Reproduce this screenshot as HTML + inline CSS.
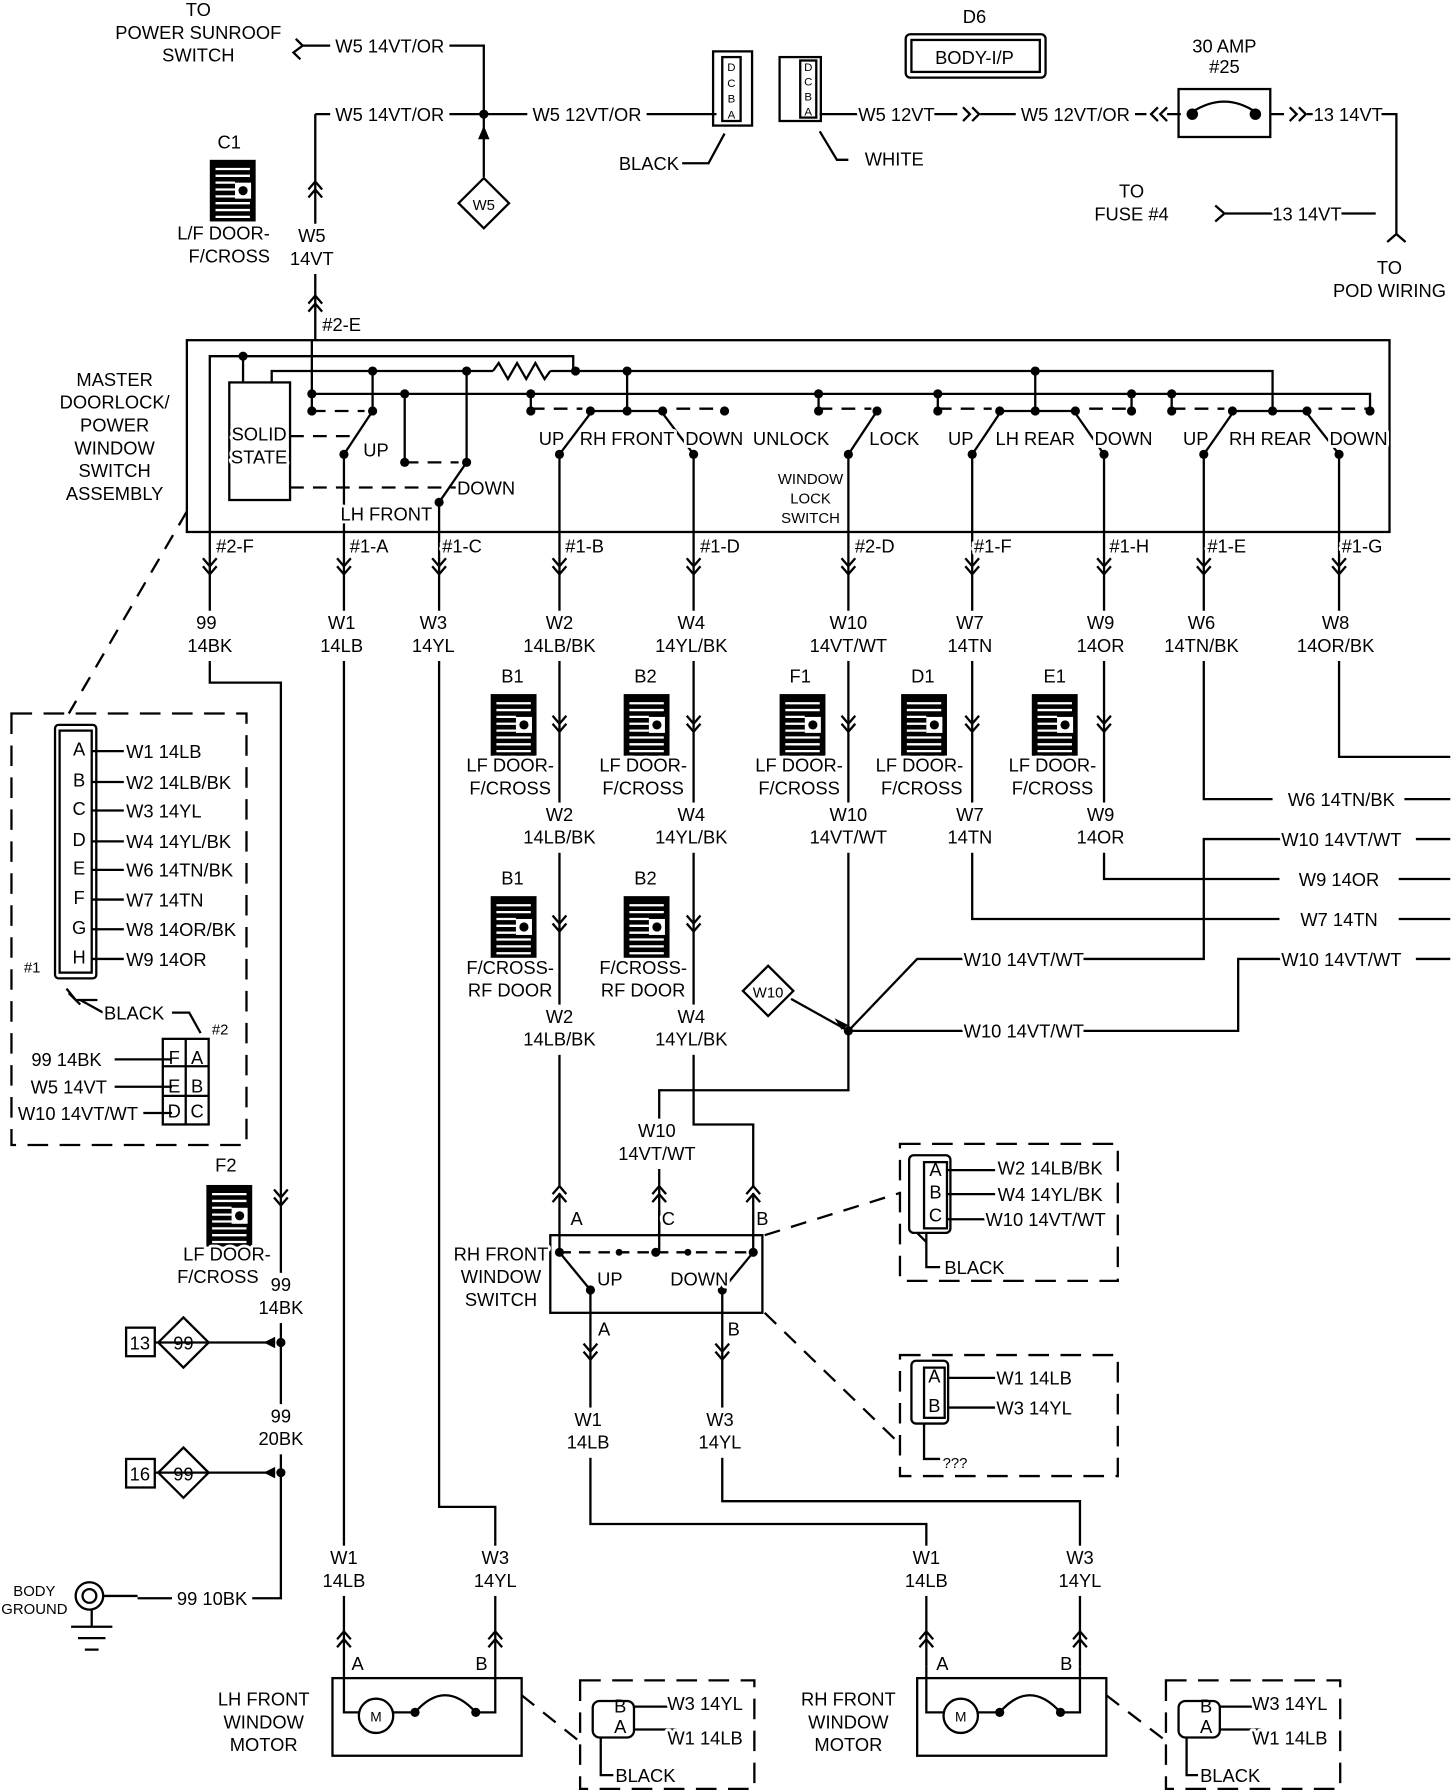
<!DOCTYPE html>
<html><head><meta charset="utf-8"><style>
html,body{margin:0;padding:0;background:#fff}
svg{display:block}
text{font-family:"Liberation Sans Narrow","Liberation Sans",sans-serif;font-size:16px;fill:#000;stroke:#fff;stroke-width:5px;paint-order:stroke;stroke-linejoin:round}
.s{font-size:13px}
.n text{stroke:none}
</style></head><body>
<svg width="1456" height="1790" viewBox="0 0 1270 1568" preserveAspectRatio="none" xmlns="http://www.w3.org/2000/svg">
<defs>
<g id="cd"><path d="M-6,-8 L0,-1 L6,-8 M-6,-1 L0,6 L6,-1" fill="none" stroke="#000" stroke-width="2"/></g>
<g id="cu"><path d="M-6,8 L0,1 L6,8 M-6,1 L0,-6 L6,1" fill="none" stroke="#000" stroke-width="2"/></g>
<g id="ci"><rect x="0" y="0" width="40" height="54" fill="#000"/>
<path d="M5,8H35M5,14H35M5,20H22M5,26H22M5,32H22M5,38H35M5,44H35M5,50H35" stroke="#fff" stroke-width="2"/>
<rect x="22" y="20" width="14" height="14" fill="#fff"/><circle cx="29" cy="27" r="4" fill="#000"/></g>
<rect id="v" x="-26" y="-20" width="52" height="44" fill="#fff"/>
<rect id="h" x="-52" y="-11" width="104" height="22" fill="#fff"/>
</defs>
<g stroke="#000" stroke-width="2" fill="none">
<path d="M258,34 L264,40 L256,46 L262,52 M264,40 H290 M390,40 H422 V100 M275,100 H290 M390,100 H460 M560,100 H625 M715,100 H748 M815,100 H835 M855,100 H890 M985,100 H1000 M1018,100 H1030 M1108,100 H1120 M1140,100 H1145 M1205,100 H1218 V205 L1210,212 M1218,205 L1226,212"/>
<path d="M275,100 V298 M422,100 V155"/>
<path d="M1060,180 L1068,187 L1060,194 M1068,187 H1110 M1170,187 H1200"/>
<path d="M840,94 L846,100 L840,106 M848,94 L854,100 L848,106 M1010,94 L1004,100 L1010,106 M1018,94 L1012,100 L1018,106 M1125,94 L1131,100 L1125,106 M1133,94 L1139,100 L1133,106"/>
<rect x="1028" y="78" width="80" height="42"/>
<path d="M1040,98 Q1068,80 1095,98"/>
<rect x="790" y="30" width="122" height="38" rx="4"/>
<rect x="795" y="35" width="112" height="28"/>
<path d="M400,178 L422,156 L444,178 L422,200 Z"/>
<rect x="622" y="45" width="34" height="65"/><rect x="630" y="50" width="16" height="56"/>
<rect x="680" y="50" width="36" height="56"/><rect x="698" y="53" width="14" height="50"/>
<path d="M595,143 H618 L632,117 M740,140 H730 L715,115"/>
<rect x="163" y="298" width="1049" height="168"/>
<path d="M183,466 V312 H500 V326 M212,312 V335 M237,335 V325 H430 M480,325 H1110 V360 M903,325 V360 M547,325 V360"/>
<path d="M430,325 L435,318 L443,332 L451,318 L459,332 L467,318 L475,332 L480,325"/>
<path d="M272,345 H1195 V360 M272,298 V360 M353,345 V405 M463,345 V360 M714,345 V360 M818,345 V360 M987,345 V360 M1022,345 V360 M325,325 V360 M407,325 V405"/>
<rect x="200" y="335" width="53" height="103"/>
<path d="M300,398 L325,360 M383,440 L407,405 M488,398 L515,362 M605,398 L578,362 M515,360 H578 M740,398 L765,360 M848,398 L872,362 M963,398 L938,362 M872,360 H938 M1050,398 L1075,362 M1168,398 L1140,362 M1075,360 H1140"/>
<path stroke-dasharray="12,8" d="M272,360 H318 M253,382 H310 M253,427 H398 M353,405 H400 M463,358 H508 M590,358 H632 M714,358 H760 M818,358 H865 M950,358 H987 M1022,358 H1068 M1150,358 H1195"/>
<path d="M183,466 V580 M300,398 V1350 M383,440 V1320 H432 V1350 M488,398 V1040 M605,398 V985 H657 V1040 M740,398 V955 H575 V980 M848,398 V805 H1235 M963,398 V770 H1235 M1050,398 V700 H1110 M1168,398 V663 H1265 M1225,700 H1265 M1235,735 H1265 M1235,770 H1265 M1235,805 H1265 M1235,840 H1265"/>
<path d="M183,580 V598 H245 V1140"/>
<path d="M740,903 L800,840 H840 M945,840 H1050 V735 H1120 M740,903 H840 M945,903 H1080 V840 H1120 M690,875 L740,903"/>
<path d="M648,868 L670,846 L692,868 L670,890 Z"/>
<path d="M575,1020 V1082"/>
<path stroke-dasharray="14,10" d="M163,448 L60,625"/>
<rect x="10" y="625" width="205" height="378" stroke-dasharray="18,10"/>
<rect x="48" y="635" width="36" height="222" rx="3"/><rect x="52" y="640" width="28" height="212"/>
<path d="M80,658 H108 M80,685 H108 M80,710 H108 M80,737 H108 M80,762 H108 M80,788 H108 M80,814 H108 M80,840 H108"/>
<path d="M58,866 L66,876 H85 M60,870 L70,880 M90,887 L70,876"/>
<rect x="142" y="910" width="40" height="75"/>
<path d="M100,928 H150 M100,952 H150 M125,975 H150 M162,910 V985 M142,934 H182 M142,960 H182 M150,887 H165 L175,905"/>
<path d="M135,1176 H240 M135,1290 H240 M245,1140 V1400 H220 M120,1400 H150"/>
<path d="M138,1176 L160,1154 L182,1176 L160,1198 Z M138,1290 L160,1268 L182,1290 L160,1312 Z"/>
<rect x="110" y="1163" width="25" height="25"/><rect x="110" y="1278" width="25" height="25"/>
<circle cx="78" cy="1398" r="12"/><circle cx="78" cy="1398" r="6"/>
<path d="M90,1398 H120 M80,1410 V1425 M62,1425 H98 M68,1435 H92 M74,1445 H86"/>
<rect x="480" y="1082" width="185" height="68"/>
<path d="M488,1045 V1097 M657,1045 V1097 M488,1097 L515,1130 M657,1097 L630,1130 M575,1060 V1097 M515,1130 V1335 H808 V1460 M630,1130 V1315 H942 V1460"/>
<path stroke-dasharray="10,7" d="M488,1097 H657"/>
<path stroke-dasharray="14,10" d="M667,1082 L785,1045 M667,1150 L785,1265"/>
<rect x="785" y="1002" width="190" height="120" stroke-dasharray="18,10"/>
<rect x="785" y="1187" width="190" height="106" stroke-dasharray="18,10"/>
<rect x="793" y="1012" width="36" height="68" rx="4"/><rect x="806" y="1018" width="20" height="58"/>
<path d="M826,1025 H868 M826,1046 H868 M826,1068 H860 M808,1080 V1110 H820 M800,1080 L808,1088"/>
<rect x="795" y="1192" width="32" height="55" rx="4"/><rect x="806" y="1198" width="18" height="44"/>
<path d="M826,1207 H868 M826,1233 H868 M806,1247 V1278 H820"/>
<rect x="290" y="1470" width="165" height="68"/><rect x="800" y="1470" width="165" height="68"/>
<path d="M300,1350 V1500 H313 M343,1500 H362 M432,1350 V1500 H415 M808,1460 V1500 H823 M853,1500 H872 M942,1460 V1500 H925"/>
<path d="M362,1500 Q388,1470 415,1500 M872,1500 Q898,1470 925,1500"/>
<circle cx="328" cy="1503" r="15"/><circle cx="838" cy="1503" r="15"/>
<path stroke-dasharray="14,10" d="M455,1485 L505,1525 M965,1485 L1017,1525"/>
<rect x="506" y="1472" width="152" height="95" stroke-dasharray="18,10"/>
<rect x="1017" y="1472" width="152" height="95" stroke-dasharray="18,10"/>
<rect x="517" y="1490" width="36" height="32" rx="6"/><rect x="1028" y="1490" width="36" height="32" rx="6"/>
<path d="M553,1495 H590 M553,1515 H590 M524,1522 V1555 H535 M1064,1495 H1100 M1064,1515 H1100 M1035,1522 V1555 H1045"/>
</g>
<!-- label masks -->
<use href="#v" x="183" y="555"/><use href="#v" x="298" y="555"/><use href="#v" x="378" y="555"/><use href="#v" x="488" y="555"/><use href="#v" x="603" y="555"/><use href="#v" x="740" y="555"/><use href="#v" x="846" y="555"/><use href="#v" x="960" y="555"/><use href="#v" x="1048" y="555"/><use href="#v" x="1165" y="555"/>
<use href="#v" x="488" y="723"/><use href="#v" x="603" y="723"/><use href="#v" x="740" y="723"/><use href="#v" x="846" y="723"/><use href="#v" x="960" y="723"/>
<use href="#v" x="488" y="900"/><use href="#v" x="603" y="900"/><use href="#v" x="573" y="1000"/>
<use href="#v" x="513" y="1253"/><use href="#v" x="628" y="1253"/>
<use href="#v" x="300" y="1374"/><use href="#v" x="432" y="1374"/><use href="#v" x="808" y="1374"/><use href="#v" x="942" y="1374"/>
<use href="#v" x="245" y="1135"/><use href="#v" x="245" y="1250"/><use href="#v" x="272" y="216"/>
<use href="#h" x="340" y="40"/><use href="#h" x="340" y="100"/><use href="#h" x="512" y="100"/><use href="#h" x="938" y="100"/>
<use href="#h" x="1170" y="700"/><use href="#h" x="1170" y="735"/><use href="#h" x="1168" y="770"/><use href="#h" x="1168" y="805"/><use href="#h" x="1170" y="840"/>
<use href="#h" x="893" y="840"/><use href="#h" x="893" y="903"/>
<rect x="752" y="90" width="62" height="20" fill="#fff"/><rect x="1148" y="90" width="56" height="20" fill="#fff"/><rect x="1112" y="177" width="58" height="20" fill="#fff"/><rect x="152" y="1390" width="66" height="20" fill="#fff"/>
<g fill="#000">
<circle cx="422" cy="100" r="4"/><circle cx="1040" cy="100" r="5"/><circle cx="1095" cy="100" r="5"/>
<circle cx="212" cy="312" r="4"/><circle cx="325" cy="325" r="4"/><circle cx="407" cy="325" r="4"/><circle cx="502" cy="325" r="4"/><circle cx="547" cy="325" r="4"/><circle cx="903" cy="325" r="4"/>
<circle cx="272" cy="345" r="4"/><circle cx="353" cy="345" r="4"/><circle cx="463" cy="345" r="4"/><circle cx="714" cy="345" r="4"/><circle cx="818" cy="345" r="4"/><circle cx="987" cy="345" r="4"/><circle cx="1022" cy="345" r="4"/>
<circle cx="272" cy="360" r="4"/><circle cx="325" cy="360" r="4"/><circle cx="300" cy="398" r="4"/><circle cx="353" cy="405" r="4"/><circle cx="407" cy="405" r="4"/><circle cx="383" cy="440" r="4"/>
<circle cx="463" cy="360" r="4"/><circle cx="515" cy="360" r="4"/><circle cx="547" cy="360" r="4"/><circle cx="578" cy="360" r="4"/><circle cx="632" cy="360" r="4"/><circle cx="488" cy="398" r="4"/><circle cx="605" cy="398" r="4"/>
<circle cx="714" cy="360" r="4"/><circle cx="765" cy="360" r="4"/><circle cx="740" cy="398" r="4"/>
<circle cx="818" cy="360" r="4"/><circle cx="872" cy="360" r="4"/><circle cx="903" cy="360" r="4"/><circle cx="938" cy="360" r="4"/><circle cx="987" cy="360" r="4"/><circle cx="848" cy="398" r="4"/><circle cx="963" cy="398" r="4"/>
<circle cx="1022" cy="360" r="4"/><circle cx="1075" cy="360" r="4"/><circle cx="1110" cy="360" r="4"/><circle cx="1140" cy="360" r="4"/><circle cx="1195" cy="360" r="4"/><circle cx="1050" cy="398" r="4"/><circle cx="1168" cy="398" r="4"/>
<circle cx="740" cy="903" r="4"/><circle cx="245" cy="1176" r="4"/><circle cx="245" cy="1290" r="4"/>
<circle cx="488" cy="1097" r="4"/><circle cx="540" cy="1097" r="3"/><circle cx="572" cy="1097" r="4"/><circle cx="600" cy="1097" r="3"/><circle cx="657" cy="1097" r="4"/><circle cx="515" cy="1130" r="4"/><circle cx="630" cy="1130" r="4"/>
<circle cx="362" cy="1500" r="4"/><circle cx="415" cy="1500" r="4"/><circle cx="872" cy="1500" r="4"/><circle cx="925" cy="1500" r="4"/>
<path d="M422,110 L417,122 L427,122 Z M240,1171 L230,1176 L240,1181 Z M240,1285 L230,1290 L240,1295 Z M740,898 L728,892 L734,902 Z"/>
</g>
<use href="#cu" x="275" y="165"/><use href="#cu" x="275" y="265"/>
<use href="#cd" x="183" y="497"/><use href="#cd" x="300" y="497"/><use href="#cd" x="383" y="497"/><use href="#cd" x="488" y="497"/><use href="#cd" x="605" y="497"/><use href="#cd" x="740" y="497"/><use href="#cd" x="848" y="497"/><use href="#cd" x="963" y="497"/><use href="#cd" x="1050" y="497"/><use href="#cd" x="1168" y="497"/>
<use href="#cd" x="488" y="635"/><use href="#cd" x="605" y="635"/><use href="#cd" x="740" y="635"/><use href="#cd" x="848" y="635"/><use href="#cd" x="963" y="635"/>
<use href="#cd" x="488" y="810"/><use href="#cd" x="605" y="810"/>
<use href="#cd" x="245" y="1050"/>
<use href="#cu" x="488" y="1045"/><use href="#cu" x="575" y="1045"/><use href="#cu" x="657" y="1045"/>
<use href="#cd" x="515" y="1185"/><use href="#cd" x="630" y="1185"/>
<use href="#cu" x="300" y="1435"/><use href="#cu" x="432" y="1435"/><use href="#cu" x="808" y="1435"/><use href="#cu" x="942" y="1435"/>
<use href="#ci" x="183" y="140"/>
<use href="#ci" x="428" y="608"/><use href="#ci" x="544" y="608"/><use href="#ci" x="680" y="608"/><use href="#ci" x="786" y="608"/><use href="#ci" x="900" y="608"/>
<use href="#ci" x="428" y="785"/><use href="#ci" x="544" y="785"/><use href="#ci" x="180" y="1038"/>
<g text-anchor="middle">
<text x="173" y="14">TO</text><text x="173" y="34">POWER SUNROOF</text><text x="173" y="54">SWITCH</text>
<text x="340" y="46">W5 14VT/OR</text><text x="340" y="106">W5 14VT/OR</text><text x="512" y="106">W5 12VT/OR</text>
<text x="782" y="106">W5 12VT</text><text x="938" y="106">W5 12VT/OR</text><text x="1176" y="106">13 14VT</text>
<text x="422" y="184" class="s">W5</text>
<text x="850" y="20">D6</text><text x="850" y="56">BODY-I/P</text>
<text x="1068" y="46">30 AMP</text><text x="1068" y="64">#25</text>
<text x="566" y="149">BLACK</text><text x="780" y="145">WHITE</text>
<text x="987" y="173">TO</text><text x="987" y="193">FUSE #4</text><text x="1140" y="193">13 14VT</text>
<text x="1212" y="240">TO</text><text x="1212" y="260">POD WIRING</text>
<text x="200" y="130">C1</text><text x="195" y="210">L/F DOOR-</text><text x="200" y="230">F/CROSS</text>
<text x="272" y="212">W5</text><text x="272" y="232">14VT</text><text x="298" y="290">#2-E</text>
<text x="100" y="338">MASTER</text><text x="100" y="358">DOORLOCK/</text><text x="100" y="378">POWER</text><text x="100" y="398">WINDOW</text><text x="100" y="418">SWITCH</text><text x="100" y="438">ASSEMBLY</text>
<text x="226" y="386">SOLID</text><text x="226" y="406">STATE</text>
<text x="328" y="400">UP</text><text x="424" y="433">DOWN</text><text x="337" y="456">LH FRONT</text>
<text x="481" y="390">UP</text><text x="547" y="390">RH FRONT</text><text x="623" y="390">DOWN</text>
<text x="690" y="390">UNLOCK</text><text x="780" y="390">LOCK</text>
<text x="707" y="424" class="s">WINDOW</text><text x="707" y="441" class="s">LOCK</text><text x="707" y="458" class="s">SWITCH</text>
<text x="838" y="390">UP</text><text x="903" y="390">LH REAR</text><text x="980" y="390">DOWN</text>
<text x="1043" y="390">UP</text><text x="1108" y="390">RH REAR</text><text x="1185" y="390">DOWN</text>
<text x="205" y="484">#2-F</text><text x="322" y="484">#1-A</text><text x="403" y="484">#1-C</text><text x="510" y="484">#1-B</text><text x="628" y="484">#1-D</text><text x="763" y="484">#2-D</text><text x="866" y="484">#1-F</text><text x="985" y="484">#1-H</text><text x="1070" y="484">#1-E</text><text x="1188" y="484">#1-G</text>
<text x="180" y="551">99</text><text x="183" y="571">14BK</text>
<text x="298" y="551">W1</text><text x="298" y="571">14LB</text>
<text x="378" y="551">W3</text><text x="378" y="571">14YL</text>
<text x="488" y="551">W2</text><text x="488" y="571">14LB/BK</text>
<text x="603" y="551">W4</text><text x="603" y="571">14YL/BK</text>
<text x="740" y="551">W10</text><text x="740" y="571">14VT/WT</text>
<text x="846" y="551">W7</text><text x="846" y="571">14TN</text>
<text x="960" y="551">W9</text><text x="960" y="571">14OR</text>
<text x="1048" y="551">W6</text><text x="1048" y="571">14TN/BK</text>
<text x="1165" y="551">W8</text><text x="1165" y="571">14OR/BK</text>
<text x="447" y="598">B1</text><text x="563" y="598">B2</text><text x="698" y="598">F1</text><text x="805" y="598">D1</text><text x="920" y="598">E1</text>
<text x="445" y="676">LF DOOR-</text><text x="445" y="696">F/CROSS</text>
<text x="561" y="676">LF DOOR-</text><text x="561" y="696">F/CROSS</text>
<text x="697" y="676">LF DOOR-</text><text x="697" y="696">F/CROSS</text>
<text x="802" y="676">LF DOOR-</text><text x="804" y="696">F/CROSS</text>
<text x="918" y="676">LF DOOR-</text><text x="918" y="696">F/CROSS</text>
<text x="488" y="719">W2</text><text x="488" y="739">14LB/BK</text>
<text x="603" y="719">W4</text><text x="603" y="739">14YL/BK</text>
<text x="740" y="719">W10</text><text x="740" y="739">14VT/WT</text>
<text x="846" y="719">W7</text><text x="846" y="739">14TN</text>
<text x="960" y="719">W9</text><text x="960" y="739">14OR</text>
<text x="447" y="775">B1</text><text x="563" y="775">B2</text>
<text x="445" y="853">F/CROSS-</text><text x="445" y="873">RF DOOR</text>
<text x="561" y="853">F/CROSS-</text><text x="561" y="873">RF DOOR</text>
<text x="488" y="896">W2</text><text x="488" y="916">14LB/BK</text>
<text x="603" y="896">W4</text><text x="603" y="916">14YL/BK</text>
<text x="670" y="874" class="s">W10</text>
<text x="1170" y="706">W6 14TN/BK</text><text x="1170" y="741">W10 14VT/WT</text><text x="1168" y="776">W9 14OR</text><text x="1168" y="811">W7 14TN</text><text x="1170" y="846">W10 14VT/WT</text>
<text x="893" y="846">W10 14VT/WT</text><text x="893" y="909">W10 14VT/WT</text>
<text x="573" y="996">W10</text><text x="573" y="1016">14VT/WT</text>
<text x="503" y="1073">A</text><text x="583" y="1073">C</text><text x="665" y="1073">B</text>
<text x="437" y="1104">RH FRONT</text><text x="437" y="1124">WINDOW</text><text x="437" y="1144">SWITCH</text>
<text x="532" y="1126">UP</text><text x="610" y="1126">DOWN</text>
<text x="527" y="1170">A</text><text x="640" y="1170">B</text>
<text x="513" y="1249">W1</text><text x="513" y="1269">14LB</text><text x="628" y="1249">W3</text><text x="628" y="1269">14YL</text>
<text x="197" y="1026">F2</text><text x="198" y="1104">LF DOOR-</text><text x="190" y="1124">F/CROSS</text>
<text x="245" y="1131">99</text><text x="245" y="1151">14BK</text><text x="245" y="1246">99</text><text x="245" y="1266">20BK</text>
<text x="185" y="1406">99 10BK</text>
<text x="30" y="1398" class="s">BODY</text><text x="30" y="1414" class="s">GROUND</text>
<text x="300" y="1370">W1</text><text x="300" y="1390">14LB</text><text x="432" y="1370">W3</text><text x="432" y="1390">14YL</text>
<text x="808" y="1370">W1</text><text x="808" y="1390">14LB</text><text x="942" y="1370">W3</text><text x="942" y="1390">14YL</text>
<text x="312" y="1463">A</text><text x="420" y="1463">B</text><text x="822" y="1463">A</text><text x="930" y="1463">B</text>
<text x="230" y="1494">LH FRONT</text><text x="230" y="1514">WINDOW</text><text x="230" y="1534">MOTOR</text>
<text x="740" y="1494">RH FRONT</text><text x="740" y="1514">WINDOW</text><text x="740" y="1534">MOTOR</text>
<text x="615" y="1498">W3 14YL</text><text x="615" y="1528">W1 14LB</text><text x="563" y="1561">BLACK</text>
<text x="1125" y="1498">W3 14YL</text><text x="1125" y="1528">W1 14LB</text><text x="1073" y="1561">BLACK</text>
<text x="916" y="1029">W2 14LB/BK</text><text x="916" y="1052">W4 14YL/BK</text><text x="912" y="1074">W10 14VT/WT</text><text x="850" y="1116">BLACK</text>
<text x="902" y="1213">W1 14LB</text><text x="902" y="1239">W3 14YL</text><text x="833" y="1286" class="s">???</text>
<text x="28" y="852" class="s">#1</text><text x="117" y="893">BLACK</text><text x="192" y="906" class="s">#2</text>
<text x="58" y="934">99 14BK</text><text x="60" y="958">W5 14VT</text><text x="68" y="981">W10 14VT/WT</text>
</g>
<g class="n" text-anchor="middle" style="font-size:11px">
<text x="122" y="1182" style="font-size:16px">13</text><text x="160" y="1182" style="font-size:16px">99</text><text x="122" y="1297" style="font-size:16px">16</text><text x="160" y="1297" style="font-size:16px">99</text>
<text x="328" y="1508" style="font-size:12px">M</text><text x="838" y="1508" style="font-size:12px">M</text>
<text x="638" y="62" style="font-size:10px">D</text><text x="638" y="76" style="font-size:10px">C</text><text x="638" y="90" style="font-size:10px">B</text><text x="638" y="104" style="font-size:10px">A</text>
<text x="705" y="62" style="font-size:10px">D</text><text x="705" y="75" style="font-size:10px">C</text><text x="705" y="88" style="font-size:10px">B</text><text x="705" y="101" style="font-size:10px">A</text>
<text x="69" y="662">A</text><text x="69" y="689">B</text><text x="69" y="714">C</text><text x="69" y="741">D</text><text x="69" y="766">E</text><text x="69" y="792">F</text><text x="69" y="818">G</text><text x="69" y="844">H</text>
<text x="152" y="932">F</text><text x="172" y="932">A</text><text x="152" y="957">E</text><text x="172" y="957">B</text><text x="152" y="979">D</text><text x="172" y="979">C</text>
<text x="816" y="1030">A</text><text x="816" y="1050">B</text><text x="816" y="1070">C</text>
<text x="815" y="1211">A</text><text x="815" y="1237">B</text>
<text x="541" y="1500">B</text><text x="541" y="1518">A</text><text x="1052" y="1500">B</text><text x="1052" y="1518">A</text>
</g>
<g text-anchor="start">
<text x="110" y="664">W1 14LB</text><text x="110" y="691">W2 14LB/BK</text><text x="110" y="716">W3 14YL</text><text x="110" y="743">W4 14YL/BK</text><text x="110" y="768">W6 14TN/BK</text><text x="110" y="794">W7 14TN</text><text x="110" y="820">W8 14OR/BK</text><text x="110" y="846">W9 14OR</text>
</g>
</svg>
</body></html>
